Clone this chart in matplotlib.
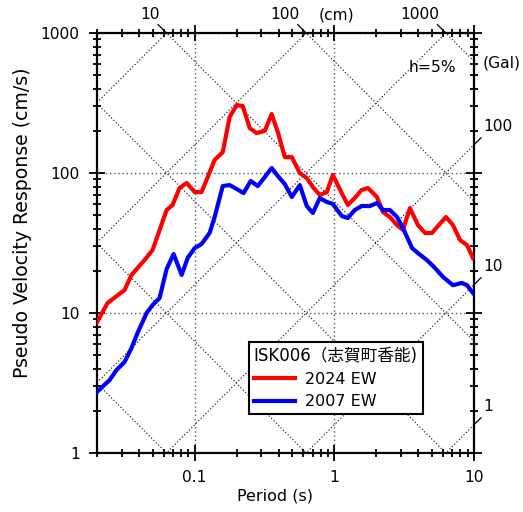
import numpy as np
import matplotlib
matplotlib.use("Agg")
import matplotlib.pyplot as plt
from matplotlib.ticker import FixedLocator, NullFormatter, FuncFormatter, LogLocator

plt.rcParams['font.family'] = ['DejaVu Sans', 'Noto Sans CJK JP']

# 2024 EW
t_2024 = [0.020, 0.0238, 0.0315, 0.0353, 0.0438, 0.050, 0.063, 0.0695, 0.078, 0.0877,
          0.100, 0.112, 0.124, 0.139, 0.159, 0.178, 0.200, 0.221, 0.248, 0.278,
          0.318, 0.356, 0.394, 0.442, 0.496, 0.566, 0.635, 0.702, 0.787, 0.883,
          0.976, 1.13, 1.25, 1.40, 1.57, 1.74, 2.02, 2.23, 2.50, 2.81,
          3.10, 3.48, 3.97, 4.46, 5.00, 5.52, 6.30, 7.07, 7.94, 8.91, 9.84]
sv_2024 = [8.6, 11.8, 14.6, 18.7, 23.9, 28.2, 54.4, 59.1, 78.2, 84.9,
           73.2, 73.0, 93.6, 124, 141, 251, 306, 301, 209, 193,
           200, 264, 196, 130, 130, 100, 92, 79.4, 69.7, 73,
           96.8, 71.9, 59.1, 66.3, 75.6, 78.2, 67.4, 52.6, 48.5, 42.5,
           39.2, 56.2, 42.5, 37.3, 37.3, 41.8, 48.5, 42.5, 33.2, 30.6, 24.7]

# 2007 EW
t_2007 = [0.020, 0.0246, 0.0276, 0.0315, 0.0353, 0.039, 0.0453, 0.050, 0.0561, 0.063,
          0.0707, 0.0807, 0.0891, 0.100, 0.112, 0.128, 0.139, 0.159, 0.178, 0.200,
          0.224, 0.252, 0.283, 0.318, 0.356, 0.394, 0.442, 0.496, 0.566, 0.635,
          0.702, 0.787, 0.883, 0.976, 1.13, 1.25, 1.40, 1.57, 1.80, 2.02,
          2.23, 2.50, 2.81, 3.10, 3.60, 3.97, 4.60, 5.25, 6.00, 7.07, 8.20, 8.91, 9.84]
sv_2007 = [2.73, 3.32, 3.92, 4.47, 5.62, 7.2, 10.0, 11.4, 12.8, 20.6,
           26.4, 18.7, 24.7, 29.1, 31.1, 37.3, 48.5, 80.7, 82, 76.9,
           71.9, 87.7, 80.7, 93.6, 108.6, 95.2, 83.4, 67.4, 82, 58.1,
           51.8, 66.3, 62.1, 60.1, 49.3, 47.7, 54.4, 58.1, 58.1, 61.1,
           54.4, 54.4, 48.5, 40.5, 29.1, 26.8, 23.9, 21.0, 18.1, 15.8, 16.4, 15.8, 13.9]

disp_labels = [10, 100, 1000]      # cm, top edge
acc_labels = [100, 10, 1]          # Gal, right edge

fig = plt.figure(figsize=(5.23, 5.12), dpi=100)
ax = fig.add_axes([0.1855, 0.1152, 0.7208, 0.8203])

ax.set_xscale('log')
ax.set_yscale('log')
ax.set_xlim(0.02, 10)
ax.set_ylim(1, 1000)

# tripartite grid: constant displacement and constant acceleration lines
tt = np.logspace(np.log10(0.02), 1, 200)
dot = dict(color='black', lw=0.8, ls=(0, (1, 2)), zorder=1)
for k in range(-4, 5):
    D = 10.0 ** k
    ax.plot(tt, 2 * np.pi * D / tt, **dot)
for k in range(-2, 8):
    A = 10.0 ** k
    ax.plot(tt, A * tt / (2 * np.pi), **dot)

ax.grid(which='major', ls=(0, (1, 2)), color='0.35', lw=1.0, zorder=1)

ax.plot(t_2024, sv_2024, color='#ff0000', lw=3, label='2024 EW', zorder=3)
ax.plot(t_2007, sv_2007, color='#0000ff', lw=3, label='2007 EW', zorder=3)

fs = 11.2
# small ticks and labels for displacement (top) and acceleration (right)
for D in disp_labels:
    t0 = 2 * np.pi * D / 1000
    s1 = 1000 * 10 ** 0.06
    ax.plot([t0, 2 * np.pi * D / s1], [1000, s1], color='black', lw=0.9, clip_on=False)
    ax.annotate(str(D), (t0, 1000), xytext=(-5, 13), textcoords='offset points',
                ha='right', va='center', fontsize=fs)
for A in acc_labels:
    s0 = A * 10 / (2 * np.pi)
    t1 = 10 * 10 ** 0.05
    ax.plot([10, t1], [s0, A * t1 / (2 * np.pi)], color='black', lw=0.9, clip_on=False)
    ax.annotate(str(A), (10, s0), xytext=(6.5, 13), textcoords='offset points',
                ha='left', va='center', fontsize=fs)

ax.text(0.634, 1.043, '(cm)', transform=ax.transAxes, ha='center', va='center', fontsize=fs)
ax.text(1.022, 0.929, '(Gal)', transform=ax.transAxes, ha='left', va='center', fontsize=fs)
ax.text(0.889, 0.917, 'h=5%', transform=ax.transAxes, ha='center', va='center', fontsize=fs)

ax.xaxis.set_major_locator(FixedLocator([0.1, 1, 10]))
ax.xaxis.set_minor_locator(LogLocator(base=10, subs=np.arange(2, 10)))
ax.yaxis.set_major_locator(FixedLocator([1, 10, 100, 1000]))
ax.yaxis.set_minor_locator(LogLocator(base=10, subs=np.arange(2, 10)))
fmt = FuncFormatter(lambda v, _: f'{v:g}')
ax.xaxis.set_major_formatter(fmt)
ax.yaxis.set_major_formatter(fmt)
ax.xaxis.set_minor_formatter(NullFormatter())
ax.yaxis.set_minor_formatter(NullFormatter())

ax.tick_params(which='both', direction='inout', top=True, right=True, width=1.3,
               labelsize=fs, pad=7)
ax.tick_params(which='major', length=11)
ax.tick_params(which='minor', length=6)
for sp in ax.spines.values():
    sp.set_linewidth(1.6)

ax.set_xlabel('Period (s)', fontsize=11.5)
ax.set_ylabel('Pseudo Velocity Response (cm/s)', fontsize=13.6)
ax.xaxis.set_label_coords(0.472, -0.084)
ax.yaxis.set_label_coords(-0.172, 0.548)

leg = ax.legend(title='ISK006（志賀町香能)', loc='lower left', bbox_to_anchor=(0.403, 0.093),
                borderaxespad=0, fontsize=11.5, title_fontsize=12, fancybox=False,
                edgecolor='black', framealpha=1, handlelength=2.6, borderpad=0.3,
                labelspacing=0.45, handletextpad=0.6)
leg._legend_box.align = 'left'
leg.get_frame().set_linewidth(1.5)

fig.savefig('out.png', dpi=100)
